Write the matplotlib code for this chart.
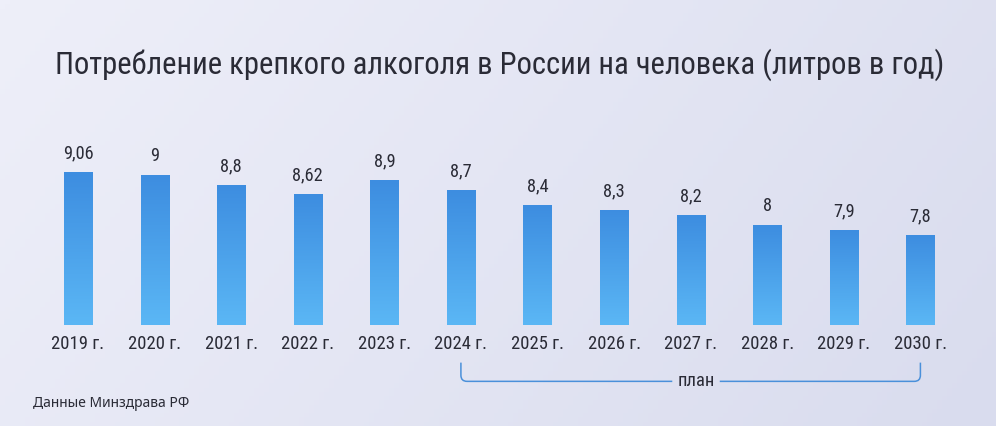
import numpy as np
import matplotlib
matplotlib.use("Agg")
import matplotlib.pyplot as plt
from matplotlib import font_manager
from matplotlib.font_manager import FontProperties
from matplotlib.colors import LinearSegmentedColormap
from matplotlib.path import Path
from matplotlib.patches import PathPatch
import matplotlib.transforms as mtransforms

# datos
anios = [2019, 2020, 2021, 2022, 2023, 2024, 2025, 2026, 2027, 2028, 2029, 2030]
litros = [9.06, 9.0, 8.8, 8.62, 8.9, 8.7, 8.4, 8.3, 8.2, 8.0, 7.9, 7.8]
etiquetas_x = [str(a) + " г." for a in anios]
etiquetas_v = [("%g" % v).replace(".", ",") for v in litros]
plan_desde = 2024

titulo = "Потребление крепкого алкоголя в России на человека (литров в год)"
fuente = "Данные Минздрава РФ"

# buscar una fuente estrecha (condensed / narrow) si la hay
preferidas = ["RobotoCondensed-Regular", "NotoSans-Condensed.", "NotoSans-CondensedRegular",
              "LiberationSansNarrow-Regular", "DejaVuSansCondensed.", "OpenSans-CondensedRegular"]
archivos = [f.fname for f in font_manager.fontManager.ttflist]
narrow_fp = None
for p in preferidas:
    for a in archivos:
        if p in a.replace("\\", "/").split("/")[-1]:
            narrow_fp = a
            break
    if narrow_fp:
        break


def fp(size):
    if narrow_fp:
        return FontProperties(fname=narrow_fp, size=size)
    return FontProperties(family="Roboto", size=size)


texto_col = "#2a2b36"

fig = plt.figure(figsize=(9.96, 4.26), dpi=100)

# fondo con degradado
bg = fig.add_axes([0, 0, 1, 1], zorder=-10)
xx, yy = np.meshgrid(np.linspace(0, 1, 200), np.linspace(0, 1, 100))
g = 0.75 * xx + 0.25 * yy
cmap_bg = LinearSegmentedColormap.from_list("bg", ["#eeeff9", "#d9dcee"])
bg.imshow(g, cmap=cmap_bg, aspect="auto", extent=[0, 1, 0, 1], origin="upper")
bg.axis("off")

# titulo: ajustar tamaño al ancho del original (~890 px)
t = fig.text(0.502, 0.828, titulo, ha="center", va="baseline",
             fontproperties=fp(25.5), color=texto_col)
rend = fig.canvas.get_renderer()
w = t.get_window_extent(rend).width
esc = min(1.0, 890.0 / w)
t.set_fontsize(25.5 * esc)
# los textos pequeños se reducen menos
esc2 = min(1.0, 0.5 + 0.5 * esc + 0.1)

ax = fig.add_axes([39.7 / 996, 101 / 426, 919 / 996, 175 / 426])
ax.patch.set_alpha(0)
x = np.arange(len(anios))
barras = ax.bar(x, litros, width=0.366, bottom=0, color="#4aa0e8", zorder=2)

cmap_bar = LinearSegmentedColormap.from_list("bar", ["#5bb7f5", "#3d8de0"])
grad = np.linspace(0, 1, 256).reshape(-1, 1)
ymin, ymax = 6.0, 9.5
for b in barras:
    x0 = b.get_x()
    im = ax.imshow(grad, cmap=cmap_bar, aspect="auto", origin="lower",
                   extent=[x0, x0 + b.get_width(), ymin, b.get_height()], zorder=3)
    im.set_clip_path(b)

ax.set_xlim(-0.5, len(anios) - 0.5)
ax.set_ylim(ymin, ymax)
ax.set_aspect("auto")

for i, v in enumerate(litros):
    ax.annotate(etiquetas_v[i], (i, v), xytext=(0, 7), textcoords="offset points",
                ha="center", va="bottom", fontproperties=fp(13.2 * esc2), color=texto_col)

ax.set_xticks(x)
ax.set_xticklabels(etiquetas_x, fontproperties=fp(13.4 * esc2), color=texto_col)
ax.tick_params(axis="x", length=0, pad=7.5)
ax.set_yticks([])
for s in ax.spines.values():
    s.set_visible(False)

# corchete "план"
i0 = anios.index(plan_desde)
i1 = len(anios) - 1
mid = (i0 + i1) / 2 + 0.07
gap = 0.31
y_top, y_bot = -0.215, -0.322
rx, ry = 0.08, 0.035
trans = mtransforms.blended_transform_factory(ax.transData, ax.transAxes)
verts = [(i0, y_top), (i0, y_bot + ry), (i0, y_bot), (i0 + rx, y_bot), (mid - gap, y_bot),
         (mid + gap, y_bot), (i1 - rx, y_bot), (i1, y_bot), (i1, y_bot + ry), (i1, y_top)]
codes = [Path.MOVETO, Path.LINETO, Path.CURVE3, Path.CURVE3, Path.LINETO,
         Path.MOVETO, Path.LINETO, Path.CURVE3, Path.CURVE3, Path.LINETO]
ax.add_patch(PathPatch(Path(verts, codes), transform=trans, fill=False,
                       edgecolor="#4a90da", lw=1.1, clip_on=False))
ax.text(mid, y_bot, "план", transform=trans, ha="center", va="center",
        fontproperties=fp(13.4 * esc2), color=texto_col)

fig.text(0.033, 0.045, fuente, ha="left", va="baseline", fontsize=10,
         family="Noto Sans", color=texto_col)

fig.savefig("out.png", dpi=100)
